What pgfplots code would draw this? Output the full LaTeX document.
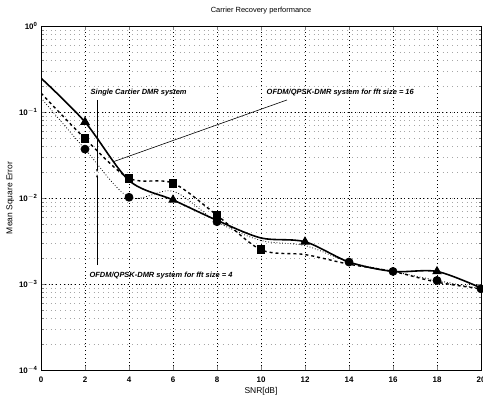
\documentclass[border=0pt]{standalone}
\usepackage{pgfplots}
\pgfplotsset{compat=1.18}
\usetikzlibrary{arrows.meta}
\usepackage{fontspec}
\setmainfont{Liberation Sans}
\begin{document}
\begin{tikzpicture}[x=1bp,y=1bp]
\begin{axis}[
  at={(0,0)}, anchor=south west,
  scale only axis,
  width=440bp, height=344bp,
  ymode=log,
  xmin=0, xmax=20, ymin=1e-4, ymax=1,
  xtick={0,2,...,20},
  ytick={1e-4,1e-3,1e-2,1e-1,1},
  yticklabels={10\textsuperscript{$-$4},10\textsuperscript{$-$3},10\textsuperscript{$-$2},10\textsuperscript{$-$1},10\textsuperscript{0}},
  /pgf/number format/assume math mode=true,
  tick label style={font=\fontsize{8}{9}\selectfont\bfseries},
  xticklabel style={yshift=-3bp},
  tick align=inside,
  major tick length=4bp, minor tick length=2.5bp,
  xmajorgrids, ymajorgrids, yminorgrids,
  major grid style={black, line width=0.6pt, dash pattern=on 0.8pt off 3pt},
  minor grid style={gray!70, line width=0.5pt, dash pattern=on 0.8pt off 4pt},
  axis line style={line width=0.8pt},
  title={Carrier Recovery performance},
  title style={font=\fontsize{7.5}{8}\selectfont, at={(axis description cs:0.5,1)}, anchor=center, yshift=9bp},
  xlabel={SNR[dB]}, ylabel={Mean Square Error},
  label style={font=\fontsize{8.5}{9}\selectfont},
  xlabel style={at={(axis description cs:0.5,0)}, anchor=center, yshift=-21bp},
  ylabel style={at={(axis description cs:-0.07,0.5)}, anchor=center},
  clip=true,
]
% Solid, triangles
\addplot[black, line width=1.6pt, smooth, tension=0.5, mark=triangle*, mark size=4pt,
  mark indices={2,4,7,10}, mark options={solid}] coordinates {
  (0,0.248) (2,0.0765) (4,0.016) (6,0.0095) (8,0.0055) (10,0.00343)
  (12,0.0031) (14,0.0018) (16,0.0014) (18,0.0014) (20,0.0009)};
% Dashed, squares
\addplot[black, line width=1.4pt, dashed, smooth, tension=0.5, mark=square*, mark size=3.8pt,
  mark indices={2,3,4,5,6}, mark options={solid}] coordinates {
  (0,0.166) (2,0.049) (4,0.017) (6,0.0149) (8,0.0063) (10,0.0025)
  (12,0.0022) (14,0.0017) (16,0.0014) (18,0.00105) (20,0.00088)};
% Dotted, circles
\addplot[black, line width=0.8pt, dotted, smooth, tension=0.5, mark=*, mark size=4pt,
  mark indices={2,3,5,8,9,10,11}, mark options={solid}] coordinates {
  (0,0.146) (2,0.037) (4,0.0102) (6,0.012) (8,0.0053) (10,0.0032)
  (12,0.0028) (14,0.0018) (16,0.0014) (18,0.0011) (20,0.00088)};
% annotations
\node[font=\fontsize{7.5}{8}\selectfont\bfseries\itshape, anchor=west]
  at (axis cs:2.1,0.170) {Single Carrier DMR system};
\node[font=\fontsize{7.5}{8}\selectfont\bfseries\itshape, anchor=west]
  at (axis cs:10.1,0.170) {OFDM/QPSK-DMR system for fft size = 16};
\node[font=\fontsize{7.5}{8}\selectfont\bfseries\itshape, anchor=west]
  at (axis cs:2.05,0.00127) {OFDM/QPSK-DMR system for fft size = 4};
\draw[black, line width=0.7pt, -{Stealth[length=3bp,width=2bp]}] (axis cs:2.55,0.138) -- (axis cs:2.55,0.020);
\draw[black, line width=0.7pt, -{Stealth[length=3bp,width=2bp]}] (axis cs:2.55,0.00166) -- (axis cs:2.55,0.0188);
\draw[black, line width=0.6pt] (axis cs:11.18,0.138) -- (axis cs:3.27,0.0263);
\end{axis}
\pgfresetboundingbox
\useasboundingbox (-41bp,-29bp) rectangle (442bp,370bp);
\end{tikzpicture}
\end{document}
